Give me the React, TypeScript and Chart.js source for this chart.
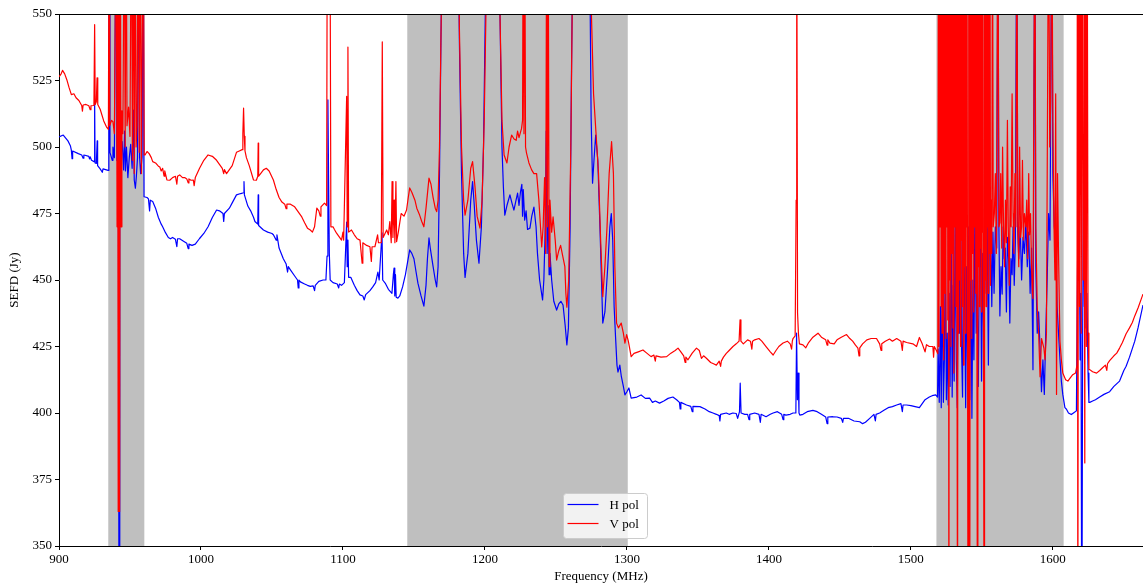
import React, { useEffect, useRef } from "react";
import { Chart, registerables } from "chart.js";

Chart.register(...registerables);

const xTicks = [900, 1000, 1100, 1200, 1300, 1400, 1500, 1600];
const yTicks = [350, 375, 400, 425, 450, 475, 500, 525, 550];
const xRange = [900, 1663.5];
const yRange = [350, 550];

// flagged (RFI) frequency bands, MHz
const bandStarts = [934.7, 1145.3, 1518];
const bandEnds = [960.1, 1300.6, 1607.6];

const seriesLabels = ["H pol", "V pol"];

// H pol: [frequency MHz, SEFD Jy]
const hPol: number[][] = [
  [900, 503.8], [903, 504.5], [906.3, 502.3], [908, 500.5], [908.7, 498.8], [909.2, 495.6], [909.6, 498.5],
  [913.6, 497.5], [916, 497], [917, 495.8], [917.5, 497], [918.3, 496.9], [921, 496.5], [921.5, 495.5],
  [922, 496.3], [922.9, 495], [924.7, 494.5], [925.1, 517.7], [925.4, 494], [926.3, 493.8], [926.9, 502.3],
  [927.2, 493], [929, 491.8], [930.5, 490.5], [931, 491.8], [934.6, 491.2], [935.1, 510], [935.5, 600],
  [935.9, 498], [937.5, 495], [938, 500], [939, 496], [940.2, 600], [940.8, 495], [941.8, 498], [942.3, 300],
  [942.8, 501.5], [943.5, 495], [944.5, 502], [945.5, 491.4], [946.2, 506], [946.8, 491], [947.5, 500],
  [948.5, 488.5], [949.5, 496], [950.5, 501], [951.5, 492], [952.5, 513.9], [953, 487.6], [953.8, 484.5],
  [954.5, 489], [955.3, 496], [956, 600], [956.8, 496], [957.5, 490], [958.5, 496.3], [959.3, 600],
  [959.9, 481.3], [960.5, 481.3], [962, 481], [963, 480.5], [963.8, 476], [964.3, 480], [966, 479.5],
  [968, 477], [970, 473.5], [972, 471], [973, 470], [975, 467.8], [977, 466], [978.5, 465.5], [980, 466],
  [982, 465.3], [983, 462.5], [983.5, 465.5], [985, 465.5], [988, 464.5], [990, 463.8], [991, 461.8],
  [991.5, 463.5], [993.7, 463], [996, 463.5], [999, 465.6], [1002, 467.5], [1005, 470], [1008, 473.5],
  [1011, 476.3], [1013, 476], [1015.5, 475], [1016, 472], [1016.5, 475], [1020, 477], [1022, 479],
  [1025, 482], [1028, 482.5], [1030, 482.8], [1030.3, 487], [1030.6, 482], [1033, 477.8], [1035, 476],
  [1037, 473.6], [1038, 472], [1040, 471], [1040.3, 482], [1040.6, 470.5], [1044, 468.8], [1047, 468],
  [1050, 467.5], [1051, 467], [1053, 465], [1053.5, 467], [1055, 462], [1058, 458], [1060, 456],
  [1061, 453], [1061.5, 455], [1063, 453.8], [1066, 451.5], [1068, 450], [1068.5, 447], [1069, 450],
  [1070, 449.3], [1073, 448.5], [1075, 448], [1077, 447.6], [1079, 447.8], [1080, 446], [1080.5, 448],
  [1083, 449.5], [1086, 450], [1088, 450], [1088.8, 459], [1089.4, 517.7], [1089.9, 487], [1090.4, 460],
  [1091, 450], [1093, 449], [1096, 448.5], [1097, 447], [1097.5, 448.5], [1099, 448], [1101, 449],
  [1102.6, 471.8], [1103, 455], [1103.5, 465], [1104, 451], [1105.5, 451], [1108, 448], [1110, 446],
  [1112, 444.4], [1114, 444], [1115, 442.5], [1116, 444.5], [1119, 446], [1121, 447.4], [1123, 449],
  [1124.6, 453], [1125.5, 450], [1126, 450], [1127.5, 467.7], [1128, 450], [1130, 448.6], [1132, 446.5],
  [1134.5, 445], [1135.5, 452], [1136, 454.5], [1136.5, 444], [1137, 452], [1137.5, 443.5], [1138.7, 443.2],
  [1140, 444], [1142, 447.4], [1144, 452], [1147, 461.3], [1148.5, 460], [1150, 458], [1151.5, 453],
  [1152.8, 448.8], [1155, 444], [1157, 440.2], [1158.5, 448], [1159.5, 458], [1160.6, 465.8], [1161.5, 462],
  [1163.5, 455], [1165, 450], [1166, 447.4], [1167, 455], [1168, 490], [1169, 540], [1170.5, 600],
  [1176, 620], [1181, 590], [1182, 540], [1183.5, 490], [1185, 460], [1186, 451], [1188, 460], [1190, 480],
  [1191.3, 487], [1192.5, 478], [1194, 465], [1195.8, 456.3], [1197.5, 470], [1199, 500], [1200.5, 560],
  [1203, 620], [1208, 600], [1210.6, 550], [1212, 500], [1213, 485], [1214, 474.4], [1215.5, 478],
  [1217.6, 482], [1219, 479], [1220.4, 476.3], [1221.5, 479], [1223, 482.7], [1224, 478], [1225, 483],
  [1226, 486], [1226.5, 474], [1227, 484], [1228, 472.5], [1229, 476], [1230, 469], [1231.7, 469.5],
  [1233, 474], [1234.5, 477.4], [1236, 470], [1237, 460], [1238.5, 450], [1240.6, 442.5], [1241.5, 450],
  [1242.5, 470], [1243.2, 506], [1243.8, 460], [1244.5, 478], [1245.2, 452], [1245.8, 460], [1247, 450],
  [1248.5, 442], [1250.5, 438.7], [1252, 441], [1253.5, 442], [1255, 440.6], [1256.5, 433], [1257.7, 425.6],
  [1258.8, 432], [1260, 470], [1261, 530], [1262, 580], [1266, 620], [1272, 600], [1274, 560],
  [1274.8, 511], [1275.8, 486.4], [1276.8, 495], [1278, 504.5], [1279.5, 495], [1281, 470], [1283, 433.8],
  [1284.5, 438], [1286.5, 455], [1288, 470], [1289, 475], [1290, 465], [1291, 440], [1292, 428.6],
  [1293, 418], [1293.7, 415.4], [1295, 418], [1296, 414], [1297.5, 410], [1298.6, 406.8], [1300, 408],
  [1301.4, 409.4], [1303, 405.6], [1307, 406], [1310, 406.8], [1313, 405.5], [1316, 405.6], [1318, 404],
  [1320, 404.5], [1323, 403.7], [1326, 404.5], [1329, 405.5], [1332.4, 406], [1335, 405], [1337, 404],
  [1337.5, 401.5], [1338, 404], [1342, 403], [1345, 402.5], [1346, 400.5], [1346.5, 402.5], [1351.4, 402.4],
  [1355, 401.5], [1358, 400.5], [1360.6, 400], [1363, 399.5], [1365, 399], [1365.5, 397], [1366, 399.5],
  [1370, 400], [1372, 399.5], [1374.6, 400], [1377, 399.8], [1378, 398], [1379.3, 400.5], [1379.8, 411.2],
  [1380.4, 400], [1383, 399.5], [1385, 399.5], [1386, 397.5], [1386.5, 399.5], [1390, 400], [1393, 399.5],
  [1394, 396.5], [1394.5, 399.5], [1398, 398.6], [1401, 399.5], [1403, 400], [1406, 400.5], [1409, 399.5],
  [1410, 397.5], [1410.5, 399.5], [1412, 399.2], [1415, 399.5], [1417, 400], [1419, 400], [1419.5, 430],
  [1420.1, 405], [1420.6, 415], [1421.2, 400], [1421.8, 399.2], [1424, 399.5], [1427, 400.5], [1431, 401],
  [1434, 400.5], [1437, 399.5], [1440, 398.5], [1441, 396], [1441.5, 398.5], [1445, 398.6], [1448, 398.5],
  [1451, 398], [1452, 396.5], [1452.5, 398], [1456, 398], [1460, 397], [1464, 396.7], [1466, 396],
  [1468, 396.5], [1471, 398], [1474, 399.5], [1475, 397], [1475.5, 399.5], [1478, 400], [1481, 401],
  [1484, 402], [1487, 402.4], [1490, 403], [1493, 403.5], [1494, 400.5], [1494.5, 403], [1497, 403],
  [1500, 402.8], [1503, 402.4], [1506, 402], [1508, 403.5], [1510, 405], [1513, 406], [1515, 406.5],
  [1517.5, 406.8], [1518.8, 406], [1519.2, 424], [1520, 404], [1520.8, 440], [1521.4, 402], [1522.2, 455],
  [1522.9, 404], [1523.6, 420], [1524.3, 462], [1525, 405], [1525.6, 430], [1526.3, 403], [1527, 445],
  [1527.6, 410], [1528.4, 470], [1529.1, 406], [1529.8, 448], [1530.5, 412], [1531.2, 475], [1532, 420],
  [1532.7, 402], [1533.4, 458], [1534.2, 430], [1535, 493], [1535.7, 425], [1536.4, 406], [1537.1, 480],
  [1537.9, 440], [1538.6, 402], [1539.3, 455], [1540, 415], [1540.8, 470], [1541.5, 405], [1542.3, 460],
  [1543, 398], [1543.7, 450], [1544.4, 420], [1545.2, 485], [1546, 430], [1546.7, 445], [1547.5, 410],
  [1548.2, 455], [1548.6, 600], [1549, 470], [1549.8, 412], [1550.6, 460], [1551.4, 425], [1552.2, 490],
  [1553, 445], [1553.8, 470], [1554.6, 418], [1555.4, 478], [1556.2, 470], [1557, 440], [1557.8, 468],
  [1558.6, 445], [1559.5, 470], [1560.5, 462], [1561.3, 600], [1562, 470], [1562.7, 436.5], [1563.5, 455],
  [1564.3, 444.7], [1565, 470], [1565.8, 458], [1566.5, 462], [1567.3, 438], [1568, 466], [1569, 456],
  [1569.7, 433.8], [1570.5, 458], [1571.3, 452], [1572, 470], [1572.8, 448], [1573.6, 464], [1574.6, 600],
  [1575.3, 468], [1576, 458], [1577, 470], [1578, 450], [1579, 466], [1580, 460], [1581, 472], [1582, 455],
  [1583, 468], [1584, 445], [1585, 462], [1586, 416.3], [1587.3, 600], [1588, 455], [1589, 430], [1590, 438],
  [1591, 424], [1592, 408], [1593, 420], [1594, 407], [1595, 430], [1596, 450], [1597, 475], [1598, 465],
  [1599.3, 600], [1600, 490], [1601, 470], [1602, 465], [1603, 440], [1604, 430], [1605, 420.3], [1606, 412],
  [1607, 407], [1608.5, 402], [1609.6, 401.4], [1611, 400], [1613, 399.4], [1615, 400.2], [1616.6, 400.8],
  [1617.6, 470], [1618, 620], [1618.6, 470], [1619.2, 420], [1619.8, 445], [1620.4, 300], [1621, 430],
  [1621.6, 490], [1622.2, 440], [1622.8, 520], [1623.4, 432], [1624, 445], [1624.8, 415], [1625.4, 404],
  [1626, 404], [1628, 404.5], [1630, 405], [1633, 406], [1636, 407], [1640, 408], [1643, 410], [1647, 412],
  [1650, 416], [1651.6, 417.6], [1654, 421], [1657.7, 427], [1660, 432], [1663.5, 440.6],
];

// V pol: [frequency MHz, SEFD Jy]
const vPol: number[][] = [
  [900, 526.4], [901.5, 527.5], [902.5, 528.8], [904, 527.5], [905.5, 525.3], [907, 522.5], [908.7, 519.7],
  [910.5, 520], [912, 518.5], [914, 517.5], [916, 515.6], [916.5, 513.5], [917, 515.8], [919, 516],
  [921, 515.5], [922, 514], [922.5, 515.5], [924.6, 515.6], [925.1, 546], [925.5, 516], [926.3, 517],
  [926.8, 526], [927.3, 516], [929, 514.2], [931.5, 509.8], [933.5, 507.5], [934.8, 506.6], [935.3, 600],
  [935.7, 508], [937, 510], [938, 509.5], [939, 505], [940.3, 600], [940.9, 470], [941.3, 600], [941.7, 363],
  [942.2, 600], [942.7, 363], [943.2, 600], [943.7, 470], [944.3, 513.6], [945, 505], [946, 600],
  [946.6, 500], [947.3, 600], [947.9, 508], [949, 515], [950, 504], [951, 600], [951.7, 495], [952.4, 600],
  [953, 490], [953.7, 600], [954.3, 500], [955, 508], [955.8, 600], [956.5, 498], [957.2, 600], [958, 490],
  [959.4, 600], [960, 497], [960.6, 497], [962, 498.3], [963.5, 497.5], [965, 496], [966, 494.5],
  [968, 494], [970, 492.8], [971, 492.5], [972, 491], [973, 492], [974, 489], [974.5, 491], [976, 487.6],
  [978, 487.5], [980, 488.5], [982, 489], [983, 486], [983.5, 489], [985, 489.5], [987, 488.5],
  [988.5, 488.5], [990, 488], [991, 486.5], [991.5, 488], [993, 487.5], [994.6, 487.6], [995.2, 485.5],
  [996, 488.5], [999, 492], [1002, 495], [1005, 497], [1008, 496.5], [1011, 495], [1013, 493.5],
  [1015, 492], [1016, 490], [1016.5, 491.5], [1018, 490], [1020, 491.5], [1022, 493], [1025, 498],
  [1027, 498.5], [1029, 499], [1029.5, 505], [1030, 514.6], [1030.5, 504], [1031, 498.5], [1032, 496],
  [1034, 493], [1037, 487.6], [1039, 487.5], [1040, 489], [1040.3, 501.5], [1040.6, 489], [1042, 490],
  [1044, 491.4], [1046, 492], [1048, 491], [1051, 487.6], [1053, 484], [1055, 481], [1057, 479.3],
  [1059, 478.5], [1060, 476.8], [1060.5, 478.5], [1063, 478.5], [1066, 477.5], [1068, 476], [1071, 473.7],
  [1073, 471.5], [1075, 469.5], [1077, 468.8], [1078.5, 468], [1080, 470], [1081.6, 477], [1083, 476],
  [1084, 474], [1084.5, 477.5], [1087, 478.9], [1088.5, 478], [1089, 600], [1090.2, 560], [1090.8, 600],
  [1091.5, 470], [1093, 470], [1094, 469], [1095.5, 467.6], [1097, 466.5], [1099, 465], [1100, 468],
  [1100.5, 465], [1102.6, 519], [1103, 470], [1103.5, 537.6], [1104, 468], [1106, 468.8], [1108, 467],
  [1110, 465.5], [1112, 465], [1113.5, 456.3], [1114, 464], [1116.7, 463], [1119, 462.5], [1120, 457],
  [1120.5, 462.5], [1122.5, 462.5], [1124.4, 467], [1125, 464], [1127, 464], [1127.7, 539.5], [1128.3, 466],
  [1130.8, 468.8], [1132, 467], [1133, 472], [1134, 464], [1134.6, 487], [1135.2, 466], [1136, 480],
  [1136.6, 464], [1137.3, 487], [1137.8, 464.4], [1139, 468], [1141, 475], [1143, 474], [1144.8, 476.3],
  [1146, 481], [1147, 484.6], [1148.5, 483], [1150.7, 480], [1152, 477], [1154, 474.4], [1155.5, 472],
  [1157, 470], [1158.5, 477], [1160.6, 488.3], [1162, 486], [1163.5, 481], [1165, 477], [1166, 475.7],
  [1167, 480], [1168, 500], [1169, 540], [1170.5, 600], [1176, 620], [1181, 590], [1182, 545],
  [1183.5, 500], [1185, 480], [1186, 474.4], [1188, 480], [1190, 492], [1191.3, 494.5], [1193, 485],
  [1194.5, 474], [1196.5, 469.5], [1198, 480], [1199.5, 510], [1201, 560], [1204, 620], [1208, 600],
  [1210.6, 550], [1212, 510], [1213.5, 497], [1215.5, 494], [1217, 500], [1218.8, 504.5], [1220.5, 503],
  [1222, 502.5], [1223, 506], [1224, 503.5], [1225.8, 507], [1226.5, 510], [1227, 600], [1227.5, 505],
  [1228, 600], [1228.6, 500], [1229.3, 497.7], [1231, 494], [1232.9, 491.4], [1234.5, 490], [1236.4, 490],
  [1238, 480], [1240, 462.4], [1241, 470], [1242, 488.5], [1242.8, 460], [1243.5, 600], [1244, 470],
  [1244.5, 600], [1245.2, 455], [1245.8, 480], [1247, 468], [1248, 473.7], [1249.5, 465], [1250.5, 457.5],
  [1252, 461], [1253.3, 463], [1254.8, 459], [1256.3, 455], [1257, 445], [1257.7, 439.8], [1259, 450],
  [1260.5, 500], [1262, 580], [1266, 620], [1272, 600], [1274, 570], [1275.5, 540], [1276.5, 520],
  [1278.5, 503], [1280, 490], [1281.5, 465], [1283, 443.7], [1284.5, 455], [1286, 470], [1287.5, 490],
  [1289.2, 502], [1290.5, 490], [1291.5, 455], [1292.7, 433.8], [1294, 432], [1296, 433.8], [1297.5, 430],
  [1298.6, 426.3], [1299.8, 429.5], [1301, 427], [1303, 421.2], [1305, 422.4], [1308, 423], [1311.3, 423.7],
  [1314, 422.5], [1317, 421.2], [1319, 421.8], [1320, 419.5], [1320.5, 421.5], [1324, 421], [1328, 421.2],
  [1331, 422.5], [1334, 423.5], [1336, 424.4], [1338, 423], [1340, 421.5], [1341, 419], [1341.5, 421],
  [1343, 420], [1346, 422.5], [1349, 424.4], [1351, 423.5], [1352.5, 420.5], [1354, 421.5], [1356, 420.6],
  [1359, 419], [1361, 418.5], [1363, 418], [1365, 419.5], [1366, 417.5], [1366.5, 419.5], [1368, 421],
  [1370, 422.4], [1372, 423.5], [1374.7, 425], [1377, 426], [1379, 427], [1379.7, 435], [1380.3, 427],
  [1382, 426], [1385, 427.5], [1387, 427], [1388, 424], [1388.5, 427], [1390, 427.5], [1393, 428],
  [1395, 427], [1398, 425], [1401, 423], [1403, 421.8], [1405, 423.5], [1407, 425], [1410, 426.3],
  [1413, 427], [1415, 426], [1416, 424], [1416.5, 427], [1417, 428], [1418.5, 429], [1419.2, 480],
  [1419.6, 600], [1420.2, 437.6], [1420.8, 430], [1421.5, 426], [1424, 425.6], [1426, 424.5], [1428, 426.5],
  [1431, 428.5], [1434.6, 430], [1437, 428.5], [1440, 427.5], [1441, 425.5], [1441.5, 427.5], [1443, 426.3],
  [1446, 426], [1448, 427.5], [1451, 428.5], [1454.7, 429.5], [1457, 428], [1459, 427], [1461, 425.5],
  [1462.7, 424.4], [1463.5, 421.5], [1464, 424.5], [1466, 426], [1469, 427.5], [1472, 428], [1475.8, 428],
  [1478, 426], [1479, 423.5], [1479.5, 426], [1482, 427], [1485, 427.8], [1487, 427], [1490, 428],
  [1493, 427], [1494, 423.5], [1494.5, 427], [1497, 426.5], [1501.4, 426], [1504, 425], [1506, 428.4],
  [1508, 426], [1510, 423], [1511, 425.7], [1513, 425], [1515.5, 425], [1516, 421], [1516.5, 425],
  [1518, 423.5], [1519, 422.3], [1519.4, 600], [1519.8, 425], [1520.2, 600], [1520.6, 470], [1521, 600],
  [1521.3, 440], [1521.6, 600], [1522, 430], [1522.3, 600], [1522.7, 455], [1523, 600], [1523.3, 420],
  [1523.7, 600], [1524, 445], [1524.3, 600], [1524.7, 428], [1525, 600], [1525.4, 470], [1525.7, 600],
  [1526, 435], [1526.4, 600], [1526.8, 300], [1527.1, 600], [1527.5, 450], [1527.8, 600], [1528.2, 425],
  [1528.5, 600], [1528.9, 460], [1529.2, 600], [1529.6, 432], [1529.9, 600], [1530.3, 415], [1530.6, 600],
  [1531, 470], [1531.3, 600], [1531.7, 440], [1532, 600], [1532.4, 455], [1532.9, 300], [1533.2, 600],
  [1533.6, 430], [1533.9, 600], [1534.3, 450], [1534.6, 600], [1535, 425], [1535.3, 600], [1535.7, 465],
  [1536, 600], [1536.4, 440], [1536.7, 600], [1537.1, 418], [1537.4, 600], [1537.8, 455], [1538.1, 600],
  [1538.5, 430], [1538.8, 600], [1539.2, 470], [1539.5, 600], [1539.9, 435], [1540.3, 300], [1540.6, 600],
  [1540.9, 300], [1541.2, 600], [1541.5, 300], [1541.9, 600], [1542.2, 450], [1542.6, 600], [1542.9, 428],
  [1543.3, 600], [1543.6, 460], [1544, 600], [1544.3, 438], [1544.7, 600], [1545, 470], [1545.4, 600],
  [1545.7, 445], [1546.1, 600], [1546.5, 430], [1546.9, 300], [1547.2, 600], [1547.6, 455], [1547.9, 600],
  [1548.3, 440], [1548.6, 600], [1549, 462], [1549.3, 600], [1549.7, 438], [1550, 600], [1550.4, 468],
  [1550.7, 600], [1551.1, 445], [1551.6, 300], [1551.9, 600], [1552.3, 450], [1552.6, 600], [1553, 440],
  [1553.4, 600], [1553.8, 470], [1554.1, 600], [1554.5, 445], [1554.9, 600], [1555.3, 460], [1555.7, 600],
  [1556.1, 448], [1556.5, 480], [1557, 460], [1557.5, 600], [1558, 470], [1558.8, 475], [1559.5, 490],
  [1560.2, 460], [1561.3, 600], [1562, 470], [1562.7, 471.6], [1563.3, 490], [1564, 462], [1564.6, 500],
  [1565.3, 469], [1566, 455], [1566.6, 480], [1567.3, 464], [1568, 510], [1568.6, 470], [1569.3, 448],
  [1570, 485], [1570.6, 470], [1571.3, 520], [1572, 475], [1572.6, 460], [1573.3, 490], [1574, 470],
  [1574.6, 600], [1575.3, 472], [1576, 455], [1576.6, 500], [1577.3, 466], [1578, 470], [1578.6, 495],
  [1579.3, 465], [1580, 475], [1581, 470], [1581.6, 480], [1582.3, 458], [1583, 490], [1583.6, 467],
  [1584.3, 475], [1585, 455], [1585.6, 445], [1586, 443], [1587.3, 600], [1588, 470], [1589, 440],
  [1590, 430], [1591, 413.6], [1592, 428], [1593.7, 424.4], [1594.5, 420], [1595.5, 430], [1596.3, 520],
  [1597, 600], [1597.8, 500], [1598.5, 517], [1599.3, 600], [1600, 510], [1600.8, 470], [1601.5, 450],
  [1602, 520], [1602.6, 407], [1603.3, 490], [1604, 460], [1605, 427], [1606, 420], [1607, 415],
  [1609, 412.5], [1610.6, 412], [1612, 413], [1614, 414.4], [1616, 415], [1617, 418], [1617.3, 620],
  [1617.6, 300], [1618.2, 600], [1618.8, 440], [1619.4, 600], [1620, 430], [1620.6, 600], [1621.3, 450],
  [1621.9, 600], [1622.5, 381.2], [1623, 600], [1623.6, 425], [1624.2, 600], [1624.8, 430], [1625.4, 416.3],
  [1626, 416.3], [1628, 415.5], [1630.8, 415], [1633, 416], [1635, 417], [1637, 418], [1638, 416],
  [1638.5, 418.5], [1640, 419.7], [1643, 421.5], [1645, 422.5], [1647, 424.4], [1649, 426.5],
  [1651.6, 429.8], [1654, 432], [1656, 434], [1657.7, 436.5], [1660, 439.5], [1663.5, 444.7],
];

const FONT = "'Liberation Serif', 'DejaVu Serif', 'Times New Roman', serif";
const SERIES_COLORS = ["#0000ff", "#ff0000"];

const bandsPlugin = {
  id: "bands",
  beforeDatasetsDraw(chart: any) {
    const { ctx, chartArea, scales } = chart;
    const xs = scales.x;
    ctx.save();
    ctx.beginPath();
    ctx.rect(chartArea.left, chartArea.top, chartArea.right - chartArea.left, chartArea.bottom - chartArea.top);
    ctx.clip();
    ctx.fillStyle = "rgba(128,128,128,0.5)";
    for (let i = 0; i < bandStarts.length; i++) {
      const a = xs.getPixelForValue(bandStarts[i]);
      const b = xs.getPixelForValue(bandEnds[i]);
      ctx.fillRect(a, chartArea.top, b - a, chartArea.bottom - chartArea.top);
    }
    ctx.restore();
  },
};

const frameLegendPlugin = {
  id: "frameLegend",
  afterDatasetsDraw(chart: any) {
    const { ctx, chartArea } = chart;
    ctx.save();
    // top spine
    ctx.strokeStyle = "#000";
    ctx.lineWidth = 1;
    ctx.beginPath();
    ctx.moveTo(chartArea.left, chartArea.top + 0.5);
    ctx.lineTo(chartArea.right, chartArea.top + 0.5);
    ctx.stroke();

    // legend box, lower centre
    const boxW = 84;
    const boxH = 45;
    const cx = (chartArea.left + chartArea.right) / 2 + 4;
    const left = Math.round(cx - boxW / 2) + 0.5;
    const top = Math.round(chartArea.bottom - 8 - boxH) + 0.5;
    const r = 3;
    ctx.beginPath();
    ctx.moveTo(left + r, top);
    ctx.lineTo(left + boxW - r, top);
    ctx.quadraticCurveTo(left + boxW, top, left + boxW, top + r);
    ctx.lineTo(left + boxW, top + boxH - r);
    ctx.quadraticCurveTo(left + boxW, top + boxH, left + boxW - r, top + boxH);
    ctx.lineTo(left + r, top + boxH);
    ctx.quadraticCurveTo(left, top + boxH, left, top + boxH - r);
    ctx.lineTo(left, top + r);
    ctx.quadraticCurveTo(left, top, left + r, top);
    ctx.closePath();
    ctx.fillStyle = "rgba(255,255,255,0.8)";
    ctx.fill();
    ctx.strokeStyle = "#cccccc";
    ctx.lineWidth = 1;
    ctx.stroke();

    ctx.font = `13px ${FONT}`;
    ctx.textBaseline = "middle";
    ctx.textAlign = "left";
    chart.data.datasets.forEach((ds: any, i: number) => {
      const y = top + 11 + i * 19;
      ctx.strokeStyle = ds.borderColor;
      ctx.lineWidth = 1.2;
      ctx.beginPath();
      ctx.moveTo(left + 4, y);
      ctx.lineTo(left + 35, y);
      ctx.stroke();
      ctx.fillStyle = "#000";
      ctx.fillText(ds.label, left + 46, y + 1);
    });
    ctx.restore();
  },
};

export default function App() {
  const canvasRef = useRef<HTMLCanvasElement | null>(null);

  useEffect(() => {
    const canvas = canvasRef.current;
    if (!canvas) return;
    const toPoints = (arr: number[][]) => arr.map((p) => ({ x: p[0], y: p[1] }));
    const chart = new Chart(canvas, {
      type: "line",
      data: {
        datasets: [
          {
            label: seriesLabels[0],
            data: toPoints(hPol),
            borderColor: SERIES_COLORS[0],
            backgroundColor: SERIES_COLORS[0],
            borderWidth: 1.2,
            pointRadius: 0,
            tension: 0,
            borderJoinStyle: "round",
            clip: 0,
            order: 1,
          },
          {
            label: seriesLabels[1],
            data: toPoints(vPol),
            borderColor: SERIES_COLORS[1],
            backgroundColor: SERIES_COLORS[1],
            borderWidth: 1.2,
            pointRadius: 0,
            tension: 0,
            borderJoinStyle: "round",
            clip: 0,
            order: 0,
          },
        ],
      },
      options: {
        animation: false,
        responsive: false,
        devicePixelRatio: 1,
        events: [],
        layout: { padding: { top: 14, right: 0, bottom: 0, left: 0 } },
        plugins: { legend: { display: false }, tooltip: { enabled: false } },
        scales: {
          x: {
            type: "linear",
            min: xRange[0],
            max: xRange[1],
            afterBuildTicks: (s: any) => {
              s.ticks = xTicks.map((v) => ({ value: v }));
            },
            afterFit: (s: any) => {
              s.height = 40;
            },
            grid: { drawOnChartArea: false, drawTicks: true, tickLength: 4, tickColor: "#000" },
            border: { display: true, color: "#000", width: 1 },
            ticks: {
              color: "#000",
              font: { family: FONT, size: 13 },
              padding: 2,
              maxRotation: 0,
              autoSkip: false,
              callback: (v: any) => String(v),
            },
            title: {
              display: true,
              text: "Frequency (MHz)",
              color: "#000",
              font: { family: FONT, size: 13 },
              padding: { top: 0, bottom: 2 },
            },
          },
          y: {
            type: "linear",
            min: yRange[0],
            max: yRange[1],
            afterBuildTicks: (s: any) => {
              s.ticks = yTicks.map((v) => ({ value: v }));
            },
            afterFit: (s: any) => {
              s.width = 59;
            },
            grid: { drawOnChartArea: false, drawTicks: true, tickLength: 4, tickColor: "#000" },
            border: { display: true, color: "#000", width: 1 },
            ticks: {
              color: "#000",
              font: { family: FONT, size: 13 },
              padding: 3,
              autoSkip: false,
              callback: (v: any) => String(v),
            },
            title: {
              display: true,
              text: "SEFD (Jy)",
              color: "#000",
              font: { family: FONT, size: 13 },
              padding: { top: 7, bottom: 0 },
            },
          },
        },
      },
      plugins: [bandsPlugin, frameLegendPlugin],
    } as any);
    return () => chart.destroy();
  }, []);

  return (
    <canvas
      ref={canvasRef}
      width={1143}
      height={586}
      style={{ position: "absolute", left: 0, top: 0, width: 1143, height: 586 }}
    />
  );
}
